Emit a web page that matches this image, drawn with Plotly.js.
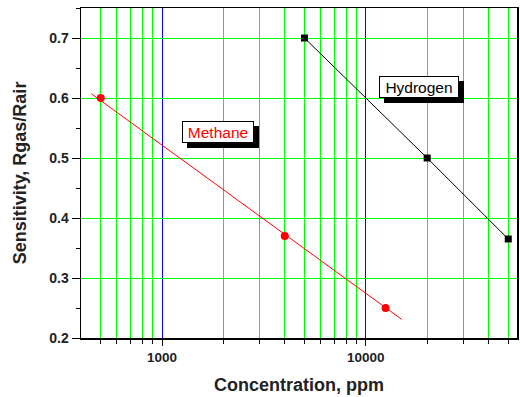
<!DOCTYPE html>
<html>
<head>
<meta charset="utf-8">
<script src="https://cdn.plot.ly/plotly-3.0.1.min.js"></script>
<style>html,body{margin:0;padding:0;background:#fff}#chart{width:520px;height:397px}</style>
</head>
<body>
<div id="chart"></div>
<script>
// Data
const methaneX = [500, 4000, 12500];
const methaneY = [0.60, 0.37, 0.25];
const methaneFitX = [450, 15000];
const methaneFitY = [0.607, 0.231];
const hydrogenX = [5000, 20000, 50000];
const hydrogenY = [0.70, 0.50, 0.365];
const majorTicks = [1000, 10000];
const majorTickText = ['1000', '10000'];
const minorGrid = [500, 600, 700, 800, 900, 2000, 3000, 4000, 5000, 6000, 7000, 8000, 9000, 20000, 30000, 40000, 50000];
const labelNames = ['Methane', 'Hydrogen'];
const labelColors = ['#ff0000', '#000000'];
const labelX = [1875, 18150];
const labelY = [0.543, 0.618];
const labelW = [68, 76];

const FONT = 'Arial, "Liberation Sans", sans-serif';

const traces = [
  {x: methaneFitX, y: methaneFitY, mode: 'lines', line: {color: '#ff0000', width: 1}, hoverinfo: 'skip', showlegend: false},
  {x: methaneX, y: methaneY, mode: 'markers', marker: {color: '#ff0000', size: 8, symbol: 'circle'}, showlegend: false},
  {x: hydrogenX, y: hydrogenY, mode: 'lines+markers', line: {color: '#000000', width: 1}, marker: {color: '#000000', size: 7, symbol: 'square'}, showlegend: false}
];

const annotations = [];
labelNames.forEach((n, i) => {
  const base = {x: Math.log10(labelX[i]), y: labelY[i], xref: 'x', yref: 'y', showarrow: false,
    width: labelW[i], height: 18, borderwidth: 1, borderpad: 1, bordercolor: '#000'};
  // drop shadow box (no text)
  annotations.push(Object.assign({}, base, {text: '&nbsp;', font: {family: FONT, size: 15.5, color: '#000'}, bgcolor: '#000', xshift: 5, yshift: -5}));
  annotations.push(Object.assign({}, base, {text: n, font: {family: FONT, size: 15.5, color: labelColors[i]}, bgcolor: '#fff'}));
});

const layout = {
  width: 520, height: 397,
  margin: {l: 81, r: 3, t: 8, b: 59},
  paper_bgcolor: '#fff', plot_bgcolor: '#fff',
  font: {family: FONT, color: '#000'},
  showlegend: false,
  xaxis: {
    type: 'log', range: [Math.log10(400), Math.log10(55200)],
    tickmode: 'array', tickvals: majorTicks, ticktext: majorTickText,
    tickfont: {family: FONT, size: 13.5, weight: 'bold', color: '#222'},
    ticks: 'outside', ticklen: 6, tickcolor: '#000',
    showgrid: true, gridcolor: '#0000ff', gridwidth: 1,
    minor: {tickmode: 'array', tickvals: minorGrid, showgrid: true, gridcolor: '#00ff00', gridwidth: 1, ticks: 'outside', ticklen: 4, tickcolor: '#000'},
    showline: true, linecolor: '#000', linewidth: 1.5, mirror: true, zeroline: false,
    title: {text: 'Concentration, ppm', font: {family: FONT, size: 18, weight: 'bold', color: '#222'}, standoff: 14}
  },
  yaxis: {
    range: [0.2, 0.75], dtick: 0.1, tick0: 0.2,
    tickfont: {family: FONT, size: 14, weight: 'bold', color: '#222'},
    ticks: 'outside', ticklen: 8, tickcolor: '#000',
    showgrid: true, gridcolor: '#00ff00', gridwidth: 1,
    minor: {dtick: 0.05, ticks: 'outside', ticklen: 4, tickcolor: '#000', showgrid: false},
    showline: true, linecolor: '#000', linewidth: 1.5, mirror: true, zeroline: false,
    title: {text: 'Sensitivity, Rgas/Rair', font: {family: FONT, size: 18, weight: 'bold', color: '#222'}, standoff: 18}
  },
  annotations: annotations
};

Plotly.newPlot('chart', traces, layout, {staticPlot: true, displayModeBar: false});
</script>
</body>
</html>
